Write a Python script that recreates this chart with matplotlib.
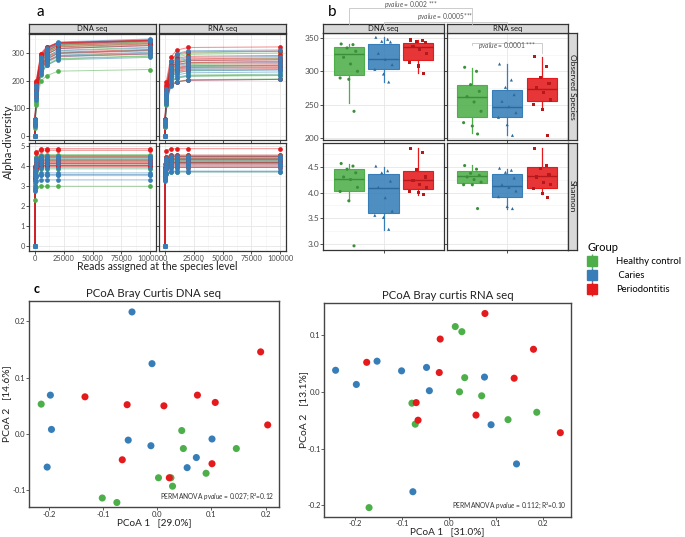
import numpy as np
import matplotlib
matplotlib.use('Agg')
import matplotlib.pyplot as plt
from matplotlib.lines import Line2D
from matplotlib.colors import to_rgba
from matplotlib.legend_handler import HandlerTuple

plt.rcParams['font.family'] = ['Lato', 'DejaVu Sans']
plt.rcParams['mathtext.fontset'] = 'custom'
plt.rcParams['mathtext.it'] = 'Lato:italic'
plt.rcParams['mathtext.rm'] = 'Lato'

# ---------------- data ----------------
groups = ['Healthy control', ' Caries', 'Periodontitis']
colors = ['#4DAF4A', '#377EB8', '#E41A1C']
dark = ['#3C8F3A', '#2C6A9E', '#B9181A']
sample_group = np.repeat([0, 1, 2], 10)  # 10 healthy, 10 caries, 10 periodontitis

depths = [0, 100, 1000, 5000, 10000, 20000, 100000]

# rarefaction, observed species (DNA)
obs_dna_100 = [45, 52, 38, 48, 55, 41, 35, 50, 44, 28, 58, 50, 62, 47, 53, 44, 40, 56, 49, 36, 60, 55, 58, 62, 51, 57, 48, 53, 46, 42]
obs_dna_1000 = [170, 165, 160, 155, 150, 140, 135, 125, 120, 112, 185, 180, 175, 170, 160, 155, 150, 140, 135, 130, 200, 195, 190, 185, 180, 170, 165, 160, 150, 145]
obs_dna_5000 = [275, 270, 265, 260, 250, 240, 235, 225, 220, 198, 285, 280, 278, 272, 260, 252, 245, 238, 232, 225, 298, 295, 290, 285, 278, 270, 262, 250, 245, 240]
obs_dna_10000 = [305, 303, 298, 293, 285, 275, 268, 258, 255, 217, 318, 315, 312, 308, 295, 287, 280, 272, 265, 255, 322, 320, 318, 315, 308, 302, 295, 285, 278, 270]
obs_dna_20000 = [330, 328, 323, 318, 310, 300, 290, 280, 278, 234, 340, 337, 334, 332, 316, 308, 300, 292, 286, 275, 338, 337, 336, 333, 327, 322, 316, 303, 298, 288]
obs_dna_final = [341, 340, 335, 330, 321, 311, 300, 290, 288, 240, 351, 348, 345, 344, 327, 318, 310, 303, 296, 284, 347, 346, 345, 343, 337, 333, 327, 313, 308, 297]

# rarefaction, observed species (RNA)
obs_rna_100 = [40, 48, 35, 45, 50, 38, 32, 46, 42, 30, 55, 48, 58, 44, 50, 42, 38, 52, 46, 35, 62, 56, 58, 60, 50, 55, 47, 52, 45, 40]
obs_rna_1000 = [165, 160, 150, 145, 140, 135, 128, 120, 115, 110, 170, 160, 155, 150, 145, 140, 135, 128, 122, 115, 195, 185, 175, 170, 165, 160, 152, 148, 142, 125]
obs_rna_5000 = [265, 260, 245, 238, 232, 225, 212, 200, 195, 182, 270, 252, 245, 236, 228, 220, 212, 205, 195, 180, 285, 272, 258, 250, 245, 240, 230, 222, 215, 182]
obs_rna_10000 = [290, 285, 266, 258, 250, 243, 228, 212, 208, 196, 298, 275, 265, 254, 244, 236, 228, 220, 210, 194, 310, 295, 280, 271, 264, 258, 247, 240, 233, 196]
obs_rna_20000 = [300, 295, 276, 266, 258, 250, 236, 220, 215, 203, 308, 284, 273, 262, 252, 244, 235, 228, 217, 201, 320, 304, 288, 279, 272, 265, 254, 247, 240, 201]
obs_rna_final = [306, 300, 280, 270, 262, 254, 240, 223, 218, 206, 311, 287, 276, 265, 255, 247, 238, 231, 220, 204, 322, 307, 291, 282, 275, 268, 257, 250, 243, 204]

# rarefaction, Shannon (flat from 5000 reads on)
sh_dna_100 = [3.9, 3.8, 3.7, 3.6, 3.5, 3.4, 3.3, 3.1, 2.9, 2.27, 3.8, 3.7, 3.6, 3.5, 3.3, 3.2, 3.0, 2.9, 2.8, 2.75, 4.0, 3.95, 3.8, 3.7, 3.65, 3.6, 3.5, 3.4, 3.35, 3.3]
sh_dna_1000 = [4.45, 4.4, 4.35, 4.3, 4.2, 4.15, 4.0, 3.95, 3.75, 2.95, 4.4, 4.3, 4.3, 4.15, 4.0, 3.8, 3.55, 3.5, 3.45, 3.25, 4.68, 4.65, 4.35, 4.2, 4.15, 4.1, 4.0, 3.95, 3.9, 3.85]
sh_dna_final = [4.56, 4.51, 4.45, 4.38, 4.30, 4.25, 4.10, 4.02, 3.84, 2.97, 4.51, 4.42, 4.38, 4.22, 4.10, 3.90, 3.64, 3.56, 3.52, 3.29, 4.85, 4.77, 4.45, 4.30, 4.24, 4.16, 4.10, 4.02, 4.00, 3.97]
sh_rna_100 = [3.9, 3.8, 3.7, 3.65, 3.6, 3.55, 3.5, 3.45, 3.4, 3.3, 3.85, 3.8, 3.75, 3.6, 3.5, 3.45, 3.4, 3.35, 3.3, 3.25, 4.1, 3.95, 3.9, 3.8, 3.75, 3.7, 3.6, 3.55, 3.5, 3.4]
sh_rna_1000 = [4.45, 4.4, 4.3, 4.25, 4.25, 4.2, 4.1, 4.1, 4.05, 3.6, 4.4, 4.35, 4.3, 4.2, 4.1, 4.0, 3.95, 3.85, 3.65, 3.6, 4.75, 4.45, 4.4, 4.3, 4.25, 4.1, 4.1, 4.0, 3.9, 3.85]
sh_rna_final = [4.52, 4.45, 4.37, 4.33, 4.30, 4.25, 4.20, 4.15, 4.15, 3.69, 4.47, 4.43, 4.39, 4.28, 4.15, 4.10, 4.03, 3.92, 3.73, 3.69, 4.85, 4.53, 4.46, 4.35, 4.30, 4.19, 4.15, 4.08, 3.98, 3.91]

# boxplot stats per group: (whisker low, q1, median, q3, whisker high)
obs_dna_stats = [(253, 295, 326, 336, 341), (284, 303, 318, 341, 351), (297, 317, 337, 342, 347)]
obs_rna_stats = [(207, 231, 262, 279, 305), (204, 232, 247, 272, 311), (243, 255, 273, 290, 322)]
sh_dna_stats = [(3.84, 4.035, 4.27, 4.45, 4.56), (3.27, 3.60, 4.09, 4.35, 4.49), (3.95, 4.07, 4.24, 4.42, 4.85)]
sh_rna_stats = [(4.15, 4.18, 4.31, 4.42, 4.53), (3.69, 3.92, 4.13, 4.36, 4.45), (3.98, 4.08, 4.31, 4.50, 4.85)]

# PCoA coordinates
pcoa_dna_x = [-0.215, 0.045, 0.048, 0.146, 0.002, 0.025, 0.028, 0.090, -0.102, -0.075,
              -0.047, -0.010, -0.198, -0.196, -0.054, -0.012, 0.101, 0.072, 0.055, -0.204,
              0.191, -0.134, -0.056, 0.012, 0.074, 0.107, 0.204, -0.065, 0.101, 0.022]
pcoa_dna_y = [0.053, 0.006, -0.026, -0.026, -0.078, -0.078, -0.093, -0.070, -0.114, -0.122,
              0.217, 0.125, 0.069, 0.008, -0.011, -0.021, -0.009, -0.042, -0.060, -0.059,
              0.146, 0.066, 0.052, 0.050, 0.069, 0.056, 0.016, -0.046, -0.053, -0.078]
pcoa_rna_x = [0.013, 0.027, 0.033, 0.022, 0.069, -0.079, -0.072, 0.125, 0.186, -0.170,
              -0.153, -0.241, -0.101, -0.048, -0.197, -0.042, 0.075, 0.089, 0.143, -0.077,
              0.076, -0.019, 0.179, -0.175, -0.021, 0.138, -0.070, -0.066, 0.057, 0.236]
pcoa_rna_y = [0.115, 0.106, 0.025, 0.000, -0.007, -0.020, -0.057, -0.049, -0.036, -0.204,
              0.054, 0.038, 0.037, 0.043, 0.013, 0.002, 0.026, -0.058, -0.127, -0.176,
              0.138, 0.093, 0.075, 0.052, 0.034, 0.024, -0.019, -0.050, -0.041, -0.072]

# ---------------- figure ----------------
W, H = 685, 537
fig = plt.figure(figsize=(W / 100, H / 100), dpi=100)


def rect(l, t, r, b):
    # pixel box -> figure fraction
    return [l / W, 1 - b / H, (r - l) / W, (b - t) / H]


def bw(ax):
    ax.set_facecolor('white')
    for s in ax.spines.values():
        s.set_color('#333333')
        s.set_linewidth(0.9)
    ax.grid(True, which='major', color='#E6E6E6', lw=0.6)
    ax.grid(True, which='minor', color='#F2F2F2', lw=0.4)
    ax.set_axisbelow(True)
    ax.tick_params(length=2, width=0.6, color='#333333', labelsize=5.4, labelcolor='#4D4D4D', pad=1)
    ax.tick_params(which='minor', length=0)


def strip(r, label, rot=0, size=5.5):
    sa = fig.add_axes(r)
    sa.set_facecolor('#D9D9D9')
    sa.set_xticks([])
    sa.set_yticks([])
    for s in sa.spines.values():
        s.set_color('#333333')
        s.set_linewidth(0.9)
    sa.text(0.5, 0.5, label, ha='center', va='center', rotation=rot, fontsize=size, color='#1A1A1A',
            transform=sa.transAxes)


# ---- panel a: rarefaction curves ----
zeros = np.zeros(30)
mats = [
    np.array([zeros, obs_dna_100, obs_dna_1000, obs_dna_5000, obs_dna_10000, obs_dna_20000, obs_dna_final]),
    np.array([zeros, obs_rna_100, obs_rna_1000, obs_rna_5000, obs_rna_10000, obs_rna_20000, obs_rna_final]),
    np.array([zeros, sh_dna_100, sh_dna_1000, sh_dna_final, sh_dna_final, sh_dna_final, sh_dna_final]),
    np.array([zeros, sh_rna_100, sh_rna_1000, sh_rna_final, sh_rna_final, sh_rna_final, sh_rna_final]),
]
a_rects = [rect(29.3, 33.7, 156, 140), rect(159.3, 33.7, 286, 140),
           rect(29.3, 143.3, 156, 250.7), rect(159.3, 143.3, 286, 250.7)]
for k in range(4):
    ax = fig.add_axes(a_rects[k])
    bw(ax)
    mat = mats[k]
    for i in range(30):
        ax.plot(depths, mat[:, i], color=colors[sample_group[i]], lw=0.7, alpha=0.5)
    for g in [0, 2, 1]:
        ax.plot(depths, mat[:, sample_group == g], 'o', ms=3.4, color=colors[g], mec='none')
    ax.set_xlim(-5000, 105000)
    ax.set_xticks([0, 25000, 50000, 75000, 100000])
    ax.set_xticks([12500, 37500, 62500, 87500], minor=True)
    if k < 2:
        ax.set_ylim(-16, 370)
        ax.set_yticks([0, 100, 200, 300])
        ax.set_yticks([50, 150, 250, 350], minor=True)
        ax.set_yticklabels(['0', '100', '200', '300'])
        ax.tick_params(axis='x', labelbottom=False)
    else:
        ax.set_ylim(-0.25, 5.12)
        ax.set_yticks([0, 1, 2, 3, 4, 5])
        ax.set_yticks([0.5, 1.5, 2.5, 3.5, 4.5], minor=True)
        ax.set_yticklabels(['0', '1', '2', '3', '4', '5'])
        ax.set_xticklabels(['0', '25000', '50000', '75000', '100000'])
    if k % 2 == 1:
        ax.tick_params(axis='y', labelleft=False)

strip(rect(29.3, 24.3, 156, 33.3), 'DNA seq')
strip(rect(159.3, 24.3, 286, 33.3), 'RNA seq')
fig.text(157 / W, 1 - 267 / H, 'Reads assigned at the species level', ha='center', va='center', fontsize=7.6, color='#222222')
fig.text(8 / W, 1 - 142 / H, 'Alpha-diversity', ha='center', va='center', rotation=90, fontsize=8, color='#222222')

# ---- panel b: boxplots ----
jit = [-0.22, 0.12, -0.05, 0.2, -0.15, 0.05, 0.25, -0.25, 0.0, 0.15]
markers = ['o', '^', 's']
positions = [-1, 0, 1]
b_specs = [
    (rect(323.3, 33.3, 443.7, 140), obs_dna_stats, obs_dna_final, 'obs'),
    (rect(446.7, 33.3, 567.7, 140), obs_rna_stats, obs_rna_final, 'obs'),
    (rect(323.3, 143.3, 443.7, 250), sh_dna_stats, sh_dna_final, 'sh'),
    (rect(446.7, 143.3, 567.7, 250), sh_rna_stats, sh_rna_final, 'sh'),
]
b_axes = []
for k, (r, stats, vals, kind) in enumerate(b_specs):
    ax = fig.add_axes(r)
    bw(ax)
    ax.tick_params(labelsize=6)
    bstats = [dict(whislo=s[0], q1=s[1], med=s[2], q3=s[3], whishi=s[4]) for s in stats]
    bp = ax.bxp(bstats, positions=positions, widths=0.865, patch_artist=True,
                showfliers=False, showcaps=False)
    for g in range(3):
        bp['boxes'][g].set_facecolor(to_rgba(colors[g], 0.88))
        bp['boxes'][g].set_edgecolor(colors[g])
        bp['boxes'][g].set_linewidth(0.8)
        for w in bp['whiskers'][2 * g:2 * g + 2]:
            w.set_color(colors[g])
            w.set_linewidth(0.9)
        bp['medians'][g].set_color(dark[g])
        bp['medians'][g].set_linewidth(1.0)
        v = np.array(vals)[sample_group == g]
        ax.scatter(np.array(jit) + positions[g], v, marker=markers[g], s=5, color=dark[g],
                   edgecolors='none', zorder=4)
    ax.set_xlim(-1.735, 1.735)
    ax.set_xticks([0])
    ax.set_xticklabels([''])
    if kind == 'obs':
        ax.set_ylim(197, 357)
        ax.set_yticks([200, 250, 300, 350])
        ax.set_yticks([225, 275, 325], minor=True)
        ax.set_yticklabels(['200', '250', '300', '350'])
    else:
        ax.set_ylim(2.89, 4.95)
        ax.set_yticks([3.0, 3.5, 4.0, 4.5])
        ax.set_yticks([3.25, 3.75, 4.25, 4.75], minor=True)
        ax.set_yticklabels(['3.0', '3.5', '4.0', '4.5'])
    if k % 2 == 1:
        ax.tick_params(axis='y', labelleft=False)
    b_axes.append(ax)

strip(rect(323.3, 24.3, 443.7, 33.3), 'DNA seq')
strip(rect(446.7, 24.3, 567.7, 33.3), 'RNA seq')
strip(rect(567.7, 33.3, 577, 140), 'Observed Species', rot=-90, size=6)
strip(rect(567.7, 143.3, 577, 250), 'Shannon', rot=-90, size=6)

# significance brackets
inv = fig.transFigure.inverted()


def fx(ax, x):
    return inv.transform(ax.transData.transform((x, ax.get_ylim()[0])))[0]


def fy(py):
    return 1 - py / H


def bracket(x1, x2, ytop, yl, yr, label, ty):
    fig.add_artist(Line2D([x1, x1, x2, x2], [fy(yl), fy(ytop), fy(ytop), fy(yr)],
                          color='#C4C4C4', lw=0.6))
    fig.text((x1 + x2) / 2, fy(ty), label, ha='center', va='center', fontsize=4.8, color='#555555')


bracket(fx(b_axes[0], -1), fx(b_axes[1], -1), 8.3, 24.3, 24.3, r'$\mathit{pvalue}$ = 0.002 ***', 4)
bracket(fx(b_axes[0], 0), fx(b_axes[1], 0), 21.7, 24.3, 24.3, r'$\mathit{pvalue}$ = 0.0005***', 16)
bracket(fx(b_axes[1], -1), fx(b_axes[1], 1), 42.5, 45, 53, r'$\mathit{pvalue}$ = 0.0001 ***', 45.5)

# legend
handles = [(Line2D([], [], marker='|', ms=10, mew=1.0, color=c, ls='none'),
            Line2D([], [], marker='s', ms=6.5, color=c, ls='none')) for c in colors]
fig.legend(handles, groups, title='Group', loc='upper left', bbox_to_anchor=(583 / W, 1 - 237 / H),
           frameon=False, fontsize=6.8, title_fontsize=8, alignment='left',
           handler_map={tuple: HandlerTuple(ndivide=1)}, handlelength=1.0, handletextpad=2.0,
           labelspacing=0.5, borderpad=0)

# ---- panel c: PCoA ----
c_specs = [
    (rect(29.3, 300.7, 278.5, 507), pcoa_dna_x, pcoa_dna_y, (-0.237, 0.224), (-0.13, 0.237),
     [-0.1, 0.0, 0.1, 0.2], 'PCoA Bray Curtis DNA seq', 'PCoA 1   [29.0%]', 'PCoA 2   [14.6%]',
     'PERMANOVA $\\mathit{pvalue}$ = 0.027; R\u00b2=0.12', 7, 523),
    (rect(324.3, 303.3, 570.7, 516.7), pcoa_rna_x, pcoa_rna_y, (-0.265, 0.258), (-0.220, 0.156),
     [-0.2, -0.1, 0.0, 0.1], 'PCoA Bray curtis RNA seq', 'PCoA 1   [31.0%]', 'PCoA 2   [13.1%]',
     'PERMANOVA $\\mathit{pvalue}$ = 0.112; R\u00b2=0.10', 303.5, 531.5),
]
for r, xs, ys, xl, yl, yt, title, xlab, ylab, perm, ylab_px, xlab_py in c_specs:
    ax = fig.add_axes(r)
    ax.scatter(xs, ys, s=26, c=[colors[g] for g in sample_group], edgecolors='none', zorder=3)
    ax.set_xlim(*xl)
    ax.set_ylim(*yl)
    ax.set_xticks([-0.2, -0.1, 0.0, 0.1, 0.2])
    ax.set_xticklabels(['-0.2', '-0.1', '0.0', '0.1', '0.2'])
    ax.set_yticks(yt)
    ax.set_yticklabels(['%.1f' % v for v in yt])
    for s in ax.spines.values():
        s.set_color('#454545')
        s.set_linewidth(1.0)
    ax.tick_params(length=2, width=0.6, color='#454545', labelsize=5.5, labelcolor='#333333', pad=0.6)
    ax.set_title(title, fontsize=8.2, pad=3, color='#222222')
    ax.set_xlabel(xlab, fontsize=7.2, color='#222222')
    ax.set_ylabel(ylab, fontsize=7.4, color='#222222')
    l, b, w, h = r
    ax.yaxis.set_label_coords((ylab_px / W - l) / w, 0.5)
    ax.xaxis.set_label_coords(0.5, ((1 - xlab_py / H) - b) / h)
    ax.yaxis.label.set_va('center')
    ax.xaxis.label.set_va('center')
    ax.text(0.985, 0.025, perm, transform=ax.transAxes, ha='right', va='bottom', fontsize=4.8, color='#333333')

# panel letters
fig.text(40 / W, 1 - 12 / H, 'a', fontsize=11, ha='center', va='center')
fig.text(331.7 / W, 1 - 12 / H, 'b', fontsize=11, ha='center', va='center')
fig.text(37 / W, 1 - 289 / H, 'c', fontsize=9, fontweight='bold', ha='center', va='center')

fig.savefig('out.png', dpi=100)
